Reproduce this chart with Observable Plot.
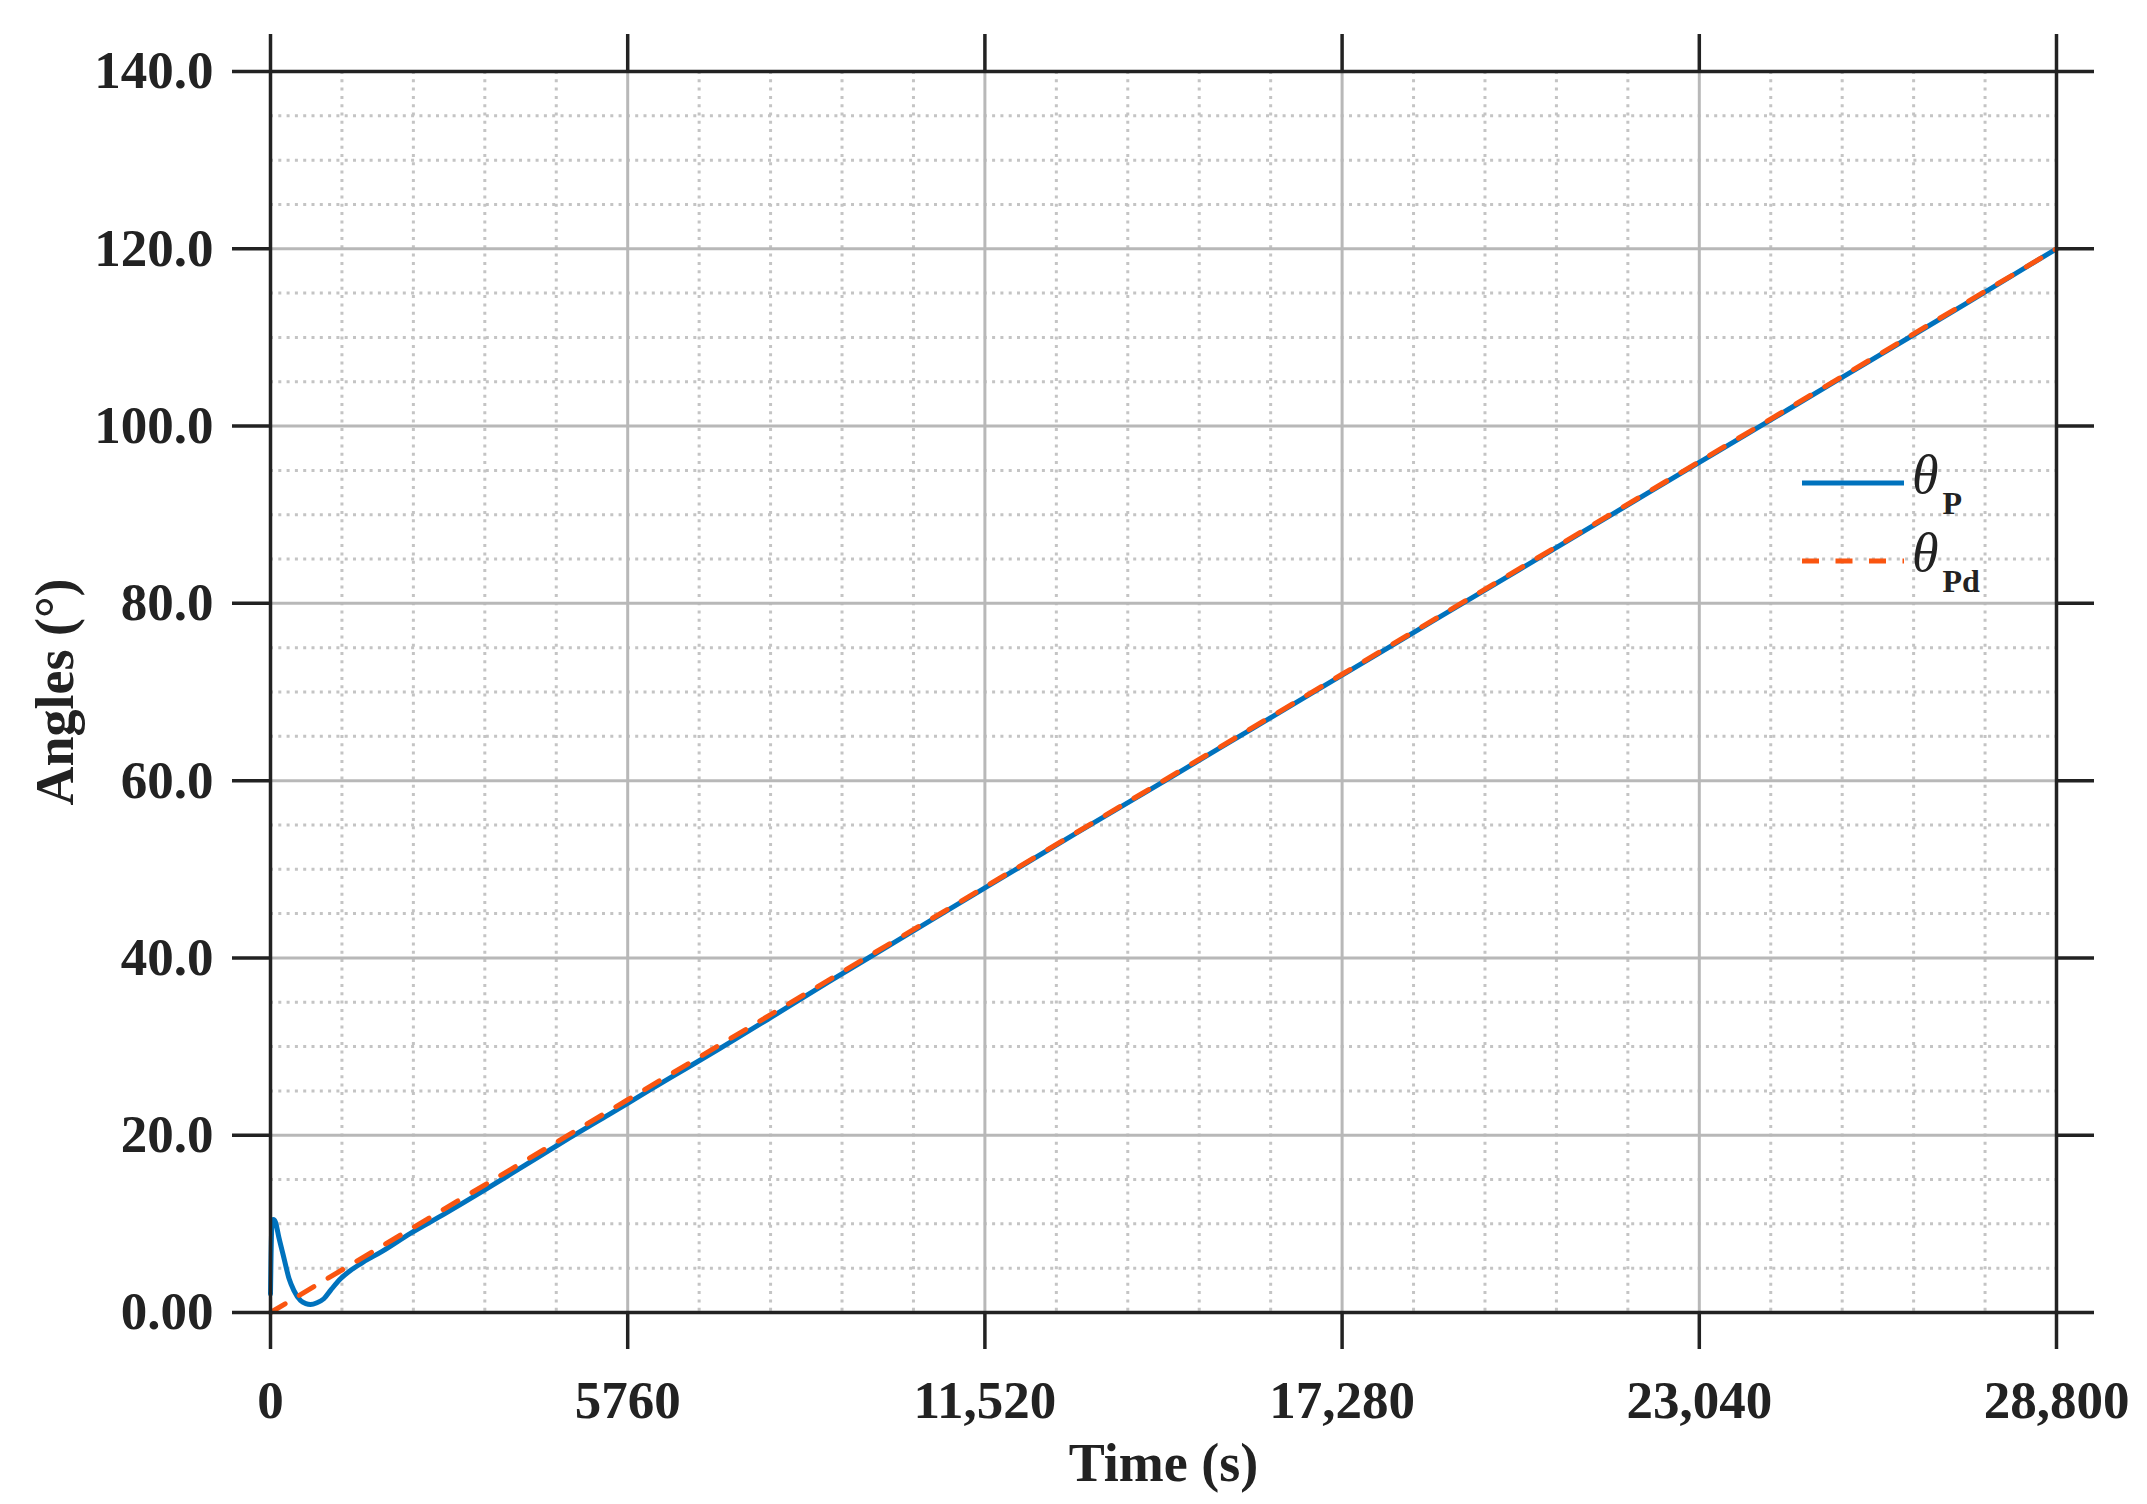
<!DOCTYPE html>
<html>
<head>
<meta charset="utf-8">
<script src="https://cdn.jsdelivr.net/npm/d3@7"></script>
<script src="https://cdn.jsdelivr.net/npm/@observablehq/plot@0.6"></script>
<style>
  html, body { margin: 0; padding: 0; background: #fff; }
  #wrap { position: relative; width: 2147px; height: 1504px; }
  #legend { position: absolute; left: 0; top: 0; pointer-events: none; }
</style>
</head>
<body>
<div id="wrap"></div>
<script>
// ---- data ----
const seriesNames = ["θP", "θPd"];

// θP (actual angle) : time (s), angle (°)
const thetaP_t = [0, 20, 45, 80, 134, 215, 300, 376, 484, 570, 645, 750, 860, 980, 1129, 1300, 1500, 1800, 2250, 2800, 3450, 4100, 4750, 5400, 5760, 6450, 7250, 8050, 9000, 10000, 11520, 13000, 14400, 15840, 17280, 18720, 20160, 21600, 23040, 24480, 25920, 27360, 28800];
const thetaP_v = [2.1, 9.5, 10.5, 10.2, 8.5, 6.2, 3.8, 2.5, 1.35, 1.0, 0.9, 1.1, 1.55, 2.6, 3.8, 4.8, 5.7, 6.9, 8.9, 11.1, 13.8, 16.6, 19.4, 22.1, 23.6, 26.5, 29.8, 33.2, 37.3, 41.5, 47.9, 54.1, 59.9, 65.9, 71.9, 77.9, 83.9, 89.9, 95.9, 101.9, 107.9, 113.9, 120.0];

// θPd (desired angle)
const thetaPd_t = [0, 5760, 11520, 17280, 23040, 28800];
const thetaPd_v = [0, 24.0, 48.0, 72.0, 96.0, 120.0];

// axes
const xTicks = [0, 5760, 11520, 17280, 23040, 28800];
const xTickLabels = ["0", "5760", "11,520", "17,280", "23,040", "28,800"];
const yTicks = [0, 20, 40, 60, 80, 100, 120, 140];
const yTickLabels = ["0.00", "20.0", "40.0", "60.0", "80.0", "100.0", "120.0", "140.0"];
const xMinorStep = 1152;
const yMinorStep = 5;
const xLabel = "Time (s)";
const yLabel = "Angles (°)";

// ---- build tables ----
const dataP = thetaP_t.map((t, i) => ({t, v: thetaP_v[i]}));
const dataPd = thetaPd_t.map((t, i) => ({t, v: thetaPd_v[i]}));
const xMax = xTicks[xTicks.length - 1];
const yMax = yTicks[yTicks.length - 1];
const xMinor = d3.range(0, xMax + 1, xMinorStep).filter(d => !xTicks.includes(d));
const yMinor = d3.range(0, yMax + 1, yMinorStep).filter(d => !yTicks.includes(d));
const xMajorGrid = xTicks.filter(d => d > 0 && d < xMax);
const yMajorGrid = yTicks.filter(d => d > 0 && d < yMax);
const xLab = new Map(xTicks.map((d, i) => [d, xTickLabels[i]]));
const yLab = new Map(yTicks.map((d, i) => [d, yTickLabels[i]]));

const FONT = "'Liberation Serif', 'Times New Roman', Times, serif";
const INK = "#222";
const BLUE = "#0072BD";
const ORANGE = "#FA5510";

const chart = Plot.plot({
  width: 2147,
  height: 1504,
  marginLeft: 270,
  marginRight: 91,
  marginTop: 71,
  marginBottom: 192,
  style: {fontFamily: FONT, fontSize: "53px", fontWeight: "bold", color: INK, background: "#fff"},
  x: {domain: [0, xMax], axis: null, label: null},
  y: {domain: [0, yMax], axis: null, label: null},
  marks: [
    // minor dotted grid
    Plot.ruleX(xMinor, {stroke: "#c4c4c4", strokeWidth: 3, strokeDasharray: "3,5.3"}),
    Plot.ruleY(yMinor, {stroke: "#c4c4c4", strokeWidth: 3, strokeDasharray: "3,5.3"}),
    // major grid
    Plot.ruleX(xMajorGrid, {stroke: "#b8b8b8", strokeWidth: 3}),
    Plot.ruleY(yMajorGrid, {stroke: "#b8b8b8", strokeWidth: 3}),
    // series
    Plot.line(dataP, {x: "t", y: "v", stroke: BLUE, strokeWidth: 5, curve: "monotone-x"}),
    Plot.line(dataPd, {x: "t", y: "v", stroke: ORANGE, strokeWidth: 5, strokeDasharray: "17,16.5"}),
    // frame lines
    Plot.ruleY([0, yMax], {stroke: INK, strokeWidth: 3.5}),
    Plot.ruleX([0, xMax], {stroke: INK, strokeWidth: 3.5}),
    // axes
    Plot.axisY(yTicks, {anchor: "left", label: null, tickSize: 38, tickPadding: 19, strokeWidth: 3.5, stroke: INK,
      tickFormat: d => yLab.get(d), fontSize: 53, fontWeight: "bold", fill: INK}),
    Plot.axisY(yTicks, {anchor: "right", label: null, tickSize: 37, strokeWidth: 3.5, stroke: INK, tickFormat: () => ""}),
    Plot.axisX(xTicks, {anchor: "bottom", label: null, tickSize: 37, tickPadding: 31, strokeWidth: 3.5, stroke: INK,
      tickFormat: d => xLab.get(d), fontSize: 53, fontWeight: "bold", fill: INK}),
    Plot.axisX(xTicks, {anchor: "top", label: null, tickSize: 38, strokeWidth: 3.5, stroke: INK, tickFormat: () => ""}),
    // axis titles
    Plot.text([xLabel], {frameAnchor: "bottom", dy: 168, lineAnchor: "bottom", textAnchor: "middle", fontSize: 54, fontWeight: "bold", fill: INK}),
    Plot.text([yLabel], {frameAnchor: "left", dx: -198, rotate: -90, lineAnchor: "bottom", textAnchor: "middle", fontSize: 54, fontWeight: "bold", fill: INK})
  ]
});

const wrap = document.getElementById("wrap");
wrap.appendChild(chart);

// legend overlay
const NS = "http://www.w3.org/2000/svg";
const leg = document.createElementNS(NS, "svg");
leg.setAttribute("id", "legend");
leg.setAttribute("width", 2147);
leg.setAttribute("height", 1504);
const entries = [
  {name: seriesNames[0], sub: "P", color: BLUE, dash: null, y: 483},
  {name: seriesNames[1], sub: "Pd", color: ORANGE, dash: "17,16.5", y: 561}
];
for (const e of entries) {
  const ln = document.createElementNS(NS, "line");
  ln.setAttribute("x1", 1802); ln.setAttribute("x2", 1904);
  ln.setAttribute("y1", e.y); ln.setAttribute("y2", e.y);
  ln.setAttribute("stroke", e.color); ln.setAttribute("stroke-width", 5);
  if (e.dash) ln.setAttribute("stroke-dasharray", e.dash);
  leg.appendChild(ln);
  const tx = document.createElementNS(NS, "text");
  tx.setAttribute("x", 1912); tx.setAttribute("y", e.y + 10);
  tx.setAttribute("font-family", FONT); tx.setAttribute("fill", INK);
  const th = document.createElementNS(NS, "tspan");
  th.setAttribute("font-style", "italic"); th.setAttribute("font-size", 54);
  th.textContent = "θ";
  const sb = document.createElementNS(NS, "tspan");
  sb.setAttribute("font-weight", "bold"); sb.setAttribute("font-size", 32);
  sb.setAttribute("dx", 4); sb.setAttribute("dy", 21);
  sb.textContent = e.sub;
  tx.appendChild(th); tx.appendChild(sb);
  leg.appendChild(tx);
}
wrap.appendChild(leg);
</script>
</body>
</html>
